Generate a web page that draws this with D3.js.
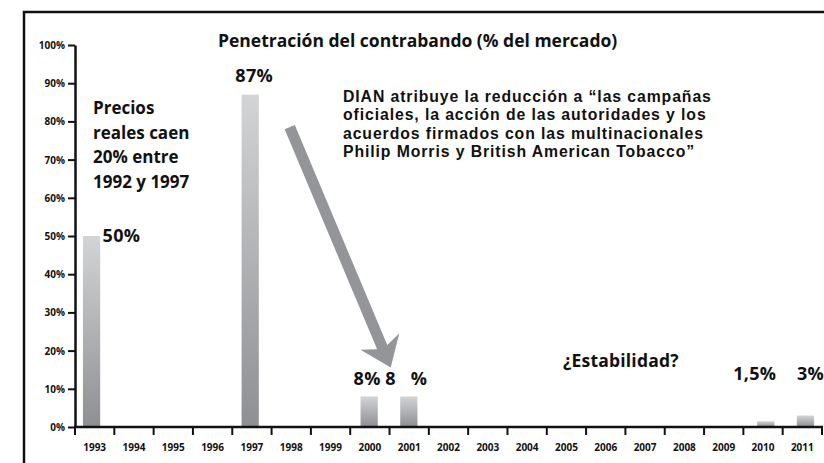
<!DOCTYPE html>
<html>
<head>
<meta charset="utf-8">
<script src="https://cdn.jsdelivr.net/npm/d3@7"></script>
<style>
  body { margin: 0; background: #fff; }
  svg text { font-family: "Open Sans", sans-serif; font-weight: 700; fill: #111; }
</style>
</head>
<body>
<svg id="chart" width="824" height="463"></svg>
<script>
// data
const years = ["1993","1994","1995","1996","1997","1998","1999","2000","2001","2002",
  "2003","2004","2005","2006","2007","2008","2009","2010","2011"];
const barYears = ["1993","1997","2000","2001","2010","2011"];
const barValues = [50, 87, 8, 8, 1.5, 3];
const barLabels = ["50%", "87%", "8%", "8   %", "1,5%", "3%"];
const yTicks = [0,10,20,30,40,50,60,70,80,90,100];

const title = "Penetración del contrabando (% del mercado)";
const noteLeft = ["Precios", "reales caen", "20% entre", "1992 y 1997"];
const noteRight = ["DIAN atribuye la reducción a “las campañas",
  "oficiales, la acción de las autoridades y los",
  "acuerdos firmados con las multinacionales",
  "Philip Morris y British American Tobacco”"];
const noteMid = "¿Estabilidad?";

const svg = d3.select('#chart');

// frame
svg.append('rect')
  .attr('x', 24).attr('y', 12).attr('width', 830).attr('height', 470)
  .attr('fill', 'none').attr('stroke', '#111').attr('stroke-width', 2.5);

let x = d3.scaleBand().domain(years).range([75, 822]).paddingInner(0.565).paddingOuter(0.2);
let y = d3.scaleLinear().domain([0, 100]).range([427, 45]);

let defs = svg.append('defs');
let grad = defs.append('linearGradient').attr('id', 'barGrad')
  .attr('x1', 0).attr('y1', 0).attr('x2', 0).attr('y2', 1);
grad.append('stop').attr('offset', '0%').attr('stop-color', '#d3d4d6');
grad.append('stop').attr('offset', '100%').attr('stop-color', '#8e8f92');

let bars = barYears.map((yr, i) => ({year: yr, value: barValues[i], label: barLabels[i]}));

svg.selectAll('.bar').data(bars).enter().append('rect')
  .attr('class', 'bar')
  .attr('x', d => x(d.year))
  .attr('width', x.bandwidth())
  .attr('y', d => y(d.value))
  .attr('height', d => y(0) - y(d.value))
  .attr('fill', 'url(#barGrad)');

// y axis
let yAxis = svg.append('g').attr('transform', 'translate(75,0)')
  .call(d3.axisLeft(y).tickValues(yTicks).tickFormat(d => d + '%').tickSize(7).tickSizeOuter(0));
yAxis.select('.domain').attr('stroke', '#111').attr('stroke-width', 2.5);
yAxis.selectAll('.tick line').attr('stroke', '#111').attr('stroke-width', 2);
yAxis.selectAll('.tick text').attr('x', -10).attr('dy', '0.35em').attr('fill', '#111')
  .style('font-size', '10px').style('font-family', '"Open Sans", sans-serif').style('font-weight', 700);

// x axis: labels at band centres, ticks at band boundaries
let xAxis = svg.append('g').attr('transform', 'translate(0,' + y(0) + ')');
xAxis.append('line').attr('x1', 74).attr('x2', 823).attr('stroke', '#111').attr('stroke-width', 2.5);
let step = (822 - 75) / years.length;
let bounds = d3.range(years.length + 1).map(i => 75 + i * step);
xAxis.selectAll('.xt').data(bounds).enter().append('line')
  .attr('x1', d => d).attr('x2', d => d).attr('y1', 0).attr('y2', 8)
  .attr('stroke', '#111').attr('stroke-width', 2);
xAxis.selectAll('.xl').data(years).enter().append('text')
  .attr('x', (d, i) => 75 + (i + 0.5) * step).attr('y', 24)
  .attr('text-anchor', 'middle').style('font-size', '10px').text(d => d);

// value labels
let labelPos = {
  "1993": {dx: 11, y: 242, anchor: 'start'},
  "1997": {dx: 4, y: 82, anchor: 'middle'},
  "2000": {dx: -2, y: 385, anchor: 'middle'},
  "2001": {dx: -23.5, y: 385, anchor: 'start'},
  "2010": {dx: -11, y: 380, anchor: 'middle'},
  "2011": {dx: 5, y: 380, anchor: 'middle'}
};
svg.selectAll('.vl').data(bars).enter().append('text')
  .attr('class', 'vl')
  .attr('x', d => x(d.year) + x.bandwidth() / 2 + labelPos[d.year].dx)
  .attr('y', d => labelPos[d.year].y)
  .attr('text-anchor', d => labelPos[d.year].anchor)
  .attr('xml:space', 'preserve')
  .style('white-space', 'pre')
  .style('font-size', '18px').style('letter-spacing', '0.3px')
  .text(d => d.label);

// title
svg.append('text').attr('x', 218).attr('y', 47)
  .style('font-size', '17.5px').text(title);

// notes, one text per line
svg.selectAll('.nl').data(noteLeft).enter().append('text')
  .attr('x', 93).attr('y', (d, i) => 114 + i * 24.7)
  .style('font-size', '17px').text(d => d);

svg.selectAll('.nr').data(noteRight).enter().append('text')
  .attr('x', 343).attr('y', (d, i) => 102 + i * 18.3)
  .style('font-family', '"Liberation Sans", Arial, sans-serif')
  .style('font-size', '15.8px').style('letter-spacing', '0.9px').text(d => d);

svg.append('text').attr('x', 563).attr('y', 367)
  .style('font-size', '17.5px').style('letter-spacing', '0.2px').text(noteMid);

// arrow from the 1997 peak down to the 2000-2001 drop
let p0 = [x('1998') + 8.5, y(78.5)];
let p1 = [x('2001') - 9.5 , y(15.6)];
let ang = Math.atan2(p1[1] - p0[1], p1[0] - p0[0]);
let len = Math.hypot(p1[0] - p0[0], p1[1] - p0[1]);
let sw = 5.5, hl = 28, hw = 21, notch = 22;
let pts = [[0, -sw], [len - notch, -sw], [len - hl, -hw], [len, 0], [len - hl, hw], [len - notch, sw], [0, sw]];
svg.append('path')
  .attr('d', d3.line()(pts) + 'Z')
  .attr('transform', 'translate(' + p0[0] + ',' + p0[1] + ') rotate(' + ang * 180 / Math.PI + ')')
  .attr('fill', '#939598');
</script>
</body>
</html>
